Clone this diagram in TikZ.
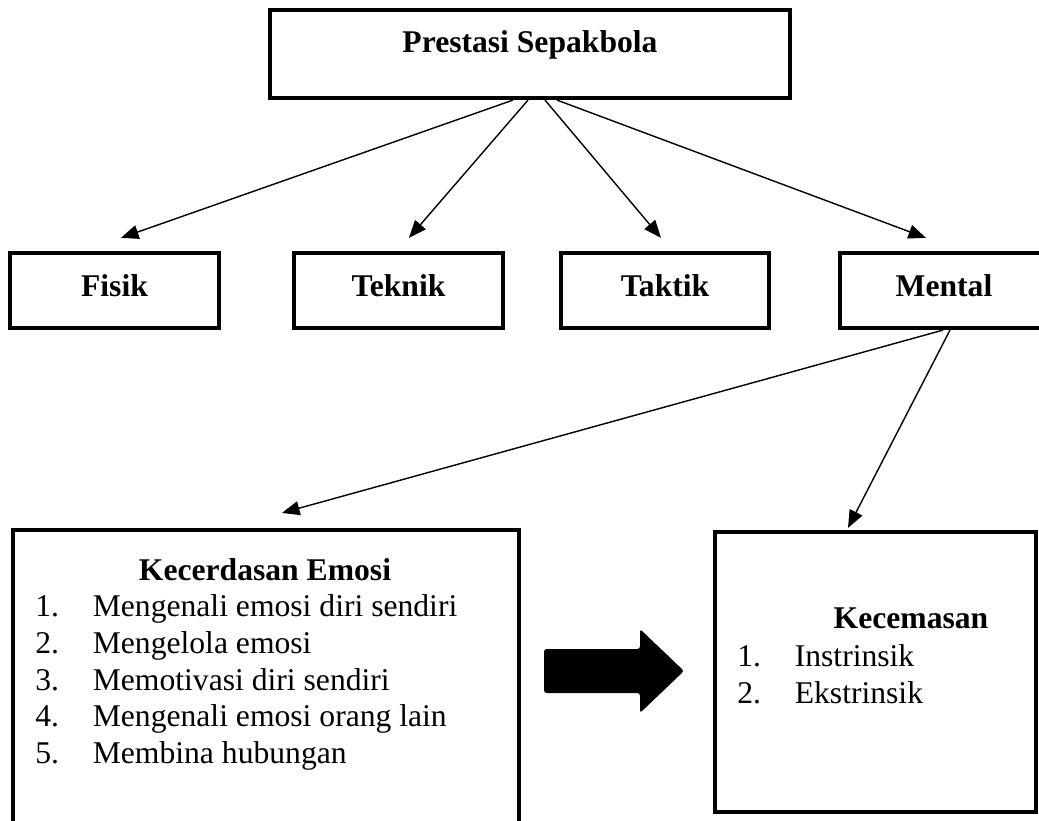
\documentclass[tikz,border=0pt]{standalone}
\usepackage{fontspec}
\setmainfont{Liberation Serif}
\usepackage{tikz}
\usetikzlibrary{arrows.meta,positioning,calc}
\tikzset{
  kotak/.style={draw, line width=2.4pt, inner sep=0pt, fill=white},
  judulfont/.style={font=\fontsize{18}{21}\selectfont\bfseries},
  panah/.style={-{Triangle[length=10pt,width=8pt]}, line width=0.8pt},
  isi/.style={inner sep=0pt, align=left, font=\fontsize{18}{21}\selectfont}
}
\newcommand{\Nomor}[1]{\makebox[1.15cm][l]{#1}}
\newcommand{\FaktorNode}[3]{%
  \path (#2,290.5) node (#1) [kotak, judulfont, minimum width=4.17cm, minimum height=1.5cm, text depth=0.2cm] {#3};
}

\begin{document}
\begin{tikzpicture}[x=0.02cm,y=-0.02cm]
  \useasboundingbox (0,0) rectangle (1039,821);
  \clip (0,0) rectangle (1039,821);
  % puncak
  \path (530,54) node (prestasi) [kotak, minimum width=10.4cm, minimum height=1.76cm] {};
  \path (530,53) node (judul) [judulfont, anchor=base, inner sep=0pt] {Prestasi Sepakbola};
  % faktor
  \FaktorNode{fisik}{114.5}{Fisik}
  \FaktorNode{teknik}{398.5}{Teknik}
  \FaktorNode{taktik}{665}{Taktik}
  \FaktorNode{mental}{944}{Mental}
  % kotak bawah
  \path (266,695) node (kecerdasan) [kotak, minimum width=10.12cm, minimum height=6.6cm] {};
  \path (875.5,672) node (kecemasan) [kotak, minimum width=6.42cm, minimum height=5.6cm] {};
  \path (265,580) node (judulemosi) [judulfont, anchor=base, inner sep=0pt] {Kecerdasan Emosi};
  \path (35,594) node (listemosi) [isi, anchor=north west] {%
    \Nomor{1.}Mengenali emosi diri sendiri\\
    \Nomor{2.}Mengelola emosi\\
    \Nomor{3.}Memotivasi diri sendiri\\
    \Nomor{4.}Mengenali emosi orang lain\\
    \Nomor{5.}Membina hubungan};
  \path (911,628) node (judulcemas) [judulfont, anchor=base, inner sep=0pt] {Kecemasan};
  \path (737,644) node (listcemas) [isi, anchor=north west] {%
    \Nomor{1.}Instrinsik\\
    \Nomor{2.}Ekstrinsik};
  % panah besar
  \fill[rounded corners=1.5pt] (544,649) -- (640,649) -- (640,629) -- (684,671)
    -- (640,713) -- (640,693) -- (544,693) -- cycle;
  % panah
  \draw[panah] ($(prestasi.south)+(-17,0)$) -- ($(fisik.north)+(6.5,-13)$);
  \draw[panah] ($(prestasi.south)+(-2,0)$) -- ($(teknik.north)+(10.5,-13)$);
  \draw[panah] ($(prestasi.south)+(15,0)$) -- ($(taktik.north)+(-4,-13)$);
  \draw[panah] ($(prestasi.south)+(27,0)$) -- ($(mental.north)+(-18,-13)$);
  \draw[panah] ($(mental.south)+(-1,0)$) -- ($(kecerdasan.north)+(16,-15)$);
  \draw[panah] ($(mental.south)+(6,0)$) -- ($(kecemasan.north)+(-27.5,-2)$);
\end{tikzpicture}
\end{document}
